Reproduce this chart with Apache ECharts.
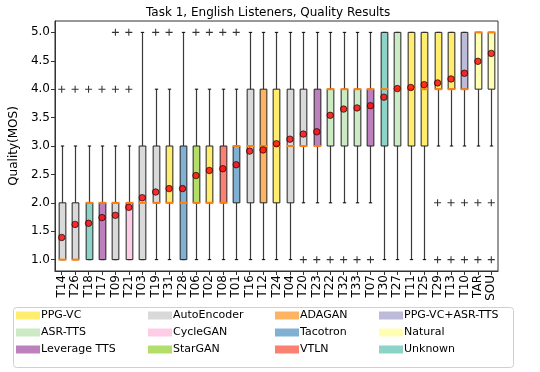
<!DOCTYPE html>
<html>
<head>
<meta charset="utf-8">
<script src="https://cdn.jsdelivr.net/npm/echarts@6/dist/echarts.min.js"></script>
<style>
  html, body { margin: 0; padding: 0; background: #fff; }
  #chart { width: 540px; height: 372px; }
</style>
</head>
<body>
<div id="chart"></div>
<script>
const categories = ['T14','T26','T18','T17','T09','T21','T03','T19','T31','T28','T06','T02','T08','T01','T16','T12','T24','T04','T20','T23','T22','T32','T33','T07','T30','T27','T11','T25','T29','T13','T10','TAR','SOU'];
const systemType = ['AutoEncoder','AutoEncoder','Unknown','Leverage TTS','AutoEncoder','CycleGAN','AutoEncoder','AutoEncoder','PPG-VC','Tacotron','StarGAN','PPG-VC','VTLN','Tacotron','AutoEncoder','ADAGAN','PPG-VC','AutoEncoder','AutoEncoder','Leverage TTS','ASR-TTS','ASR-TTS','ASR-TTS','Leverage TTS','Unknown','ASR-TTS','PPG-VC','PPG-VC','PPG-VC','PPG-VC','PPG-VC+ASR-TTS','Natural','Natural'];
const whiskerLow  = [1,1,1,1,1,1,1,1,1,1,1,1,1,1,1,1,1,1,2,2,2,2,2,2,1,1,1,1,3,3,3,3,3];
const q1          = [1,1,1,1,1,1,1,2,2,1,2,2,2,2,2,2,2,2,3,3,3,3,3,3,3,3,3,3,4,4,4,4,4];
const median      = [1,1,2,2,2,2,2,2,2,2,2,2,2,3,3,3,3,3,3,3,4,4,4,4,4,4,4,4,4,4,4,5,5];
const q3          = [2,2,2,2,2,2,3,3,3,3,3,3,3,3,4,4,4,4,4,4,4,4,4,4,5,5,5,5,5,5,5,5,5];
const whiskerHigh = [3,3,3,3,3,3,5,4,4,5,4,4,4,4,5,5,5,5,5,5,5,5,5,5,5,5,5,5,5,5,5,5,5];
const means = [1.39,1.62,1.64,1.74,1.78,1.92,2.09,2.19,2.25,2.25,2.48,2.57,2.60,2.67,2.91,2.93,3.04,3.12,3.21,3.25,3.54,3.65,3.67,3.71,3.86,4.01,4.03,4.08,4.11,4.18,4.28,4.49,4.63];
const outliers = [[4],[4],[4],[4],[4,5],[4,5],[],[5],[5],[],[5],[5],[5],[5],[],[],[],[],[1],[1],[1],[1],[1],[1],[],[],[],[],[2,1],[2,1],[2,1],[2,1],[2,1]];
const legendNames = ['PPG-VC','ASR-TTS','Leverage TTS','AutoEncoder','CycleGAN','StarGAN','ADAGAN','Tacotron','VTLN','PPG-VC+ASR-TTS','Natural','Unknown'];
const legendColors = ['#ffed6f','#ccebc5','#bc80bd','#d9d9d9','#fccde5','#b3de69','#fdb462','#80b1d3','#fb8072','#bebada','#ffffb3','#8dd3c7'];
const yTicks = [1.0,1.5,2.0,2.5,3.0,3.5,4.0,4.5,5.0];

const colorOf = {};
legendNames.forEach((n, i) => colorOf[n] = legendColors[i]);

const boxData = categories.map((c, i) => [i, whiskerLow[i], q1[i], median[i], q3[i], whiskerHigh[i]]);
const meanData = categories.map((c, i) => [i, means[i]]);
const outlierData = [];
outliers.forEach((arr, i) => arr.forEach(v => outlierData.push([i, v])));

const FONT = 'DejaVu Sans';

function renderBox(params, api) {
  const i = api.value(0);
  const pLow = api.coord([i, api.value(1)]);
  const pQ1 = api.coord([i, api.value(2)]);
  const pMed = api.coord([i, api.value(3)]);
  const pQ3 = api.coord([i, api.value(4)]);
  const pHigh = api.coord([i, api.value(5)]);
  const band = api.size([1, 0])[0];
  const bw = band * 0.5;
  const cw = bw * 0.5;
  const x = Math.round(pQ1[0]) + 0.5;
  const fill = colorOf[systemType[params.dataIndex]];
  const wStyle = { stroke: '#3a3a3a', lineWidth: 1.2 };
  const children = [
    { type: 'line', shape: { x1: x, y1: pLow[1], x2: x, y2: pQ1[1] }, style: wStyle },
    { type: 'line', shape: { x1: x, y1: pQ3[1], x2: x, y2: pHigh[1] }, style: wStyle },
    { type: 'line', shape: { x1: x - cw / 2, y1: pLow[1], x2: x + cw / 2, y2: pLow[1] }, style: { stroke: '#000', lineWidth: 1 } },
    { type: 'line', shape: { x1: x - cw / 2, y1: pHigh[1], x2: x + cw / 2, y2: pHigh[1] }, style: { stroke: '#000', lineWidth: 1 } },
    { type: 'rect', shape: { x: x - bw / 2, y: pQ3[1], width: bw, height: pQ1[1] - pQ3[1] }, style: { fill: fill, stroke: '#222', lineWidth: 1 } },
    { type: 'line', shape: { x1: x - bw / 2 - 0.5, y1: pMed[1], x2: x + bw / 2 + 0.5, y2: pMed[1] }, style: { stroke: '#ff7f0e', lineWidth: 2 } }
  ];
  return { type: 'group', children: children };
}

const dummySeries = legendNames.map((n, i) => ({
  name: n, type: 'bar', data: [], itemStyle: { color: legendColors[i] }
}));

function legendCol(names, left) {
  return {
    data: names.map(n => ({ name: n, icon: 'rect' })),
    orient: 'vertical',
    left: left,
    top: 310,
    itemWidth: 24,
    itemHeight: 8,
    itemGap: 6,
    padding: 0,
    selectedMode: false,
    textStyle: { fontFamily: FONT, fontSize: 11, color: '#000', padding: [0, 0, 0, -4] }
  };
}

const chart = echarts.init(document.getElementById('chart'), null, { renderer: 'canvas' });
chart.setOption({
  animation: false,
  backgroundColor: '#fff',
  title: {
    text: 'Task 1, English Listeners, Quality Results',
    left: 141, top: 2,
    textStyle: { fontFamily: FONT, fontSize: 12, fontWeight: 'normal', color: '#000' }
  },
  graphic: [{
    type: 'rect', left: 13, top: 307, z: -1,
    shape: { width: 500, height: 60, r: 3 },
    style: { fill: '#fff', stroke: '#d0d0d0', lineWidth: 1 }
  }],
  legend: [
    legendCol(legendNames.slice(0, 3), 16),
    legendCol(legendNames.slice(3, 6), 148),
    legendCol(legendNames.slice(6, 9), 275),
    legendCol(legendNames.slice(9, 12), 379)
  ],
  grid: { left: 47, right: 42, top: 21, bottom: 101, show: true, borderColor: '#333', borderWidth: 1, backgroundColor: 'transparent' },
  xAxis: {
    type: 'category',
    data: categories,
    boundaryGap: true,
    axisLine: { show: true, lineStyle: { color: '#333' } },
    axisTick: { show: true, alignWithLabel: true, length: 4, lineStyle: { color: '#333' } },
    axisLabel: { rotate: 90, interval: 0, fontFamily: FONT, fontSize: 12, color: '#000', margin: 4 },
    splitLine: { show: false }
  },
  yAxis: {
    type: 'value',
    min: 0.8, max: 5.2,
    name: 'Quality(MOS)',
    nameLocation: 'middle',
    nameRotate: 90,
    nameGap: 33,
    nameTextStyle: { fontFamily: FONT, fontSize: 12, color: '#000' },
    axisLine: { show: true, lineStyle: { color: '#333' } },
    axisTick: { show: true, length: 4, customValues: yTicks, lineStyle: { color: '#333' } },
    axisLabel: { customValues: yTicks, formatter: v => Number(v).toFixed(1), fontFamily: FONT, fontSize: 12, color: '#000', margin: 5 },
    splitLine: { show: false }
  },
  series: [
    {
      type: 'custom',
      name: 'boxes',
      renderItem: renderBox,
      data: boxData,
      encode: { x: 0, y: [1, 2, 3, 4, 5] },
      z: 2
    },
    {
      type: 'scatter',
      name: 'outliers',
      data: outlierData,
      symbol: 'path://M-0.15,-1 L0.15,-1 L0.15,1 L-0.15,1 Z M-1,-0.15 L1,-0.15 L1,0.15 L-1,0.15 Z',
      symbolSize: 7,
      itemStyle: { color: '#000' },
      z: 3
    },
    {
      type: 'scatter',
      name: 'mean',
      data: meanData,
      symbol: 'circle',
      symbolSize: 6.5,
      itemStyle: { color: '#ff0000', borderColor: '#000', borderWidth: 0.8 },
      z: 4
    }
  ].concat(dummySeries)
});
</script>
</body>
</html>
